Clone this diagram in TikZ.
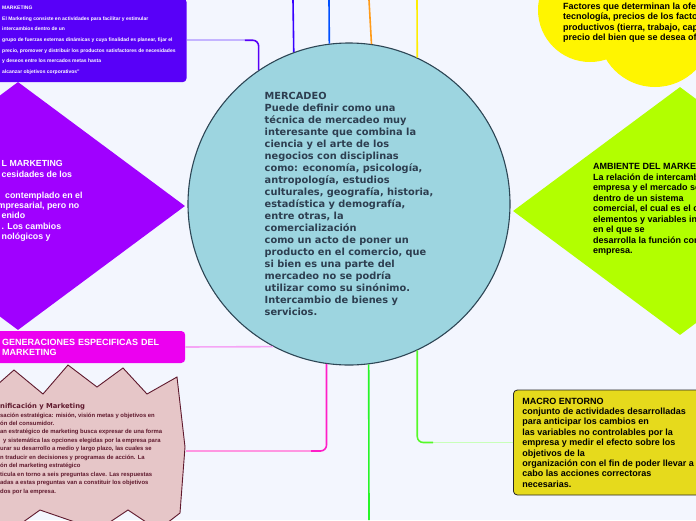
\documentclass[tikz,border=0pt]{standalone}
\usepackage{fontspec}
\setmainfont{Liberation Sans}
\newfontfamily\dejavu{DejaVu Sans}
\usetikzlibrary{positioning,shapes.geometric}
\definecolor{pagebg}{RGB}{243,246,254}
\definecolor{hubfill}{RGB}{157,213,224}
\definecolor{hubline}{RGB}{45,70,85}
\definecolor{hubtext}{RGB}{45,62,80}
\definecolor{mkviolet}{RGB}{88,0,248}
\definecolor{mklight}{RGB}{196,180,255}
\definecolor{evoviolet}{RGB}{160,0,255}
\definecolor{genmagenta}{RGB}{236,0,240}
\definecolor{genlight}{RGB}{245,165,245}
\definecolor{burstfill}{RGB}{230,198,200}
\definecolor{burstline}{RGB}{95,25,45}
\definecolor{planline}{RGB}{255,30,200}
\definecolor{planlight}{RGB}{255,150,225}
\definecolor{cloudyellow}{RGB}{255,245,0}
\definecolor{ambgreen}{RGB}{178,255,0}
\definecolor{macrofill}{RGB}{230,218,28}
\definecolor{macroline}{RGB}{85,250,40}
\definecolor{macrolight}{RGB}{200,255,185}
\definecolor{downgreen}{RGB}{40,245,40}
\definecolor{upviolet}{RGB}{55,0,255}
\definecolor{upblue}{RGB}{0,80,255}
\definecolor{uporange}{RGB}{255,155,25}
\definecolor{upyellow}{RGB}{255,238,0}
\tikzset{
  hub/.style={circle, draw=hubline, line width=1.1pt, fill=hubfill, minimum size=322pt, inner sep=0pt, align=left, text=hubtext, font=\dejavu\bfseries\fontsize{9.8}{12}\selectfont},
  dia/.style={diamond, minimum width=334pt, minimum height=248pt, inner sep=0pt},
  card/.style={rectangle, rounded corners=4pt, align=left, font=\bfseries\fontsize{9}{10.4}\selectfont},
  txt/.style={anchor=north west, inner sep=0pt, align=left, font=\bfseries\fontsize{9}{10.5}\selectfont},
  tiny/.style={txt, font=\bfseries\fontsize{5}{10.67}\selectfont},
  burst/.style={draw=burstline, line width=0.9pt, fill=burstfill, line join=miter},
  link/.style={line width=1.6pt, rounded corners=6pt},
}
\begin{document}
\begin{tikzpicture}[x=1pt,y=-1pt]
\fill[pagebg] (0,0) rectangle (696,520);
\useasboundingbox (0,0) rectangle (696,520);
\clip (0,0) rectangle (696,520);
% shapes round the hub
\fill[cloudyellow] (590,10) circle[radius=52pt] (655,30) circle[radius=57pt] (730,22) circle[radius=50pt] (640,-10) circle[radius=50pt];
\node[dia, fill=evoviolet] (evolucion) at (18,206) {};
\node[dia, fill=ambgreen] (ambiente) at (680,211) {};
\draw[burst] (-20,400) -- (14,370) -- (43,394) -- (68,365) -- (97,387) -- (123,368) -- (147,394) -- (177,377) -- (185,447) -- (180,513) -- (158,530) -- (128,510) -- (98,530) -- (40,510) -- (12,530) -- (-20,530) -- cycle;
\coordinate (plan) at (186,451);
\node[hub] (mercadeo) at (349,204) {MERCADEO\\Puede definir como una\\t\'ecnica de mercadeo muy\\interesante que combina la\\ciencia y el arte de los\\negocios con disciplinas\\como: econom\'ia, psicolog\'ia,\\antropolog\'ia, estudios\\culturales, geograf\'ia, historia,\\estad\'istica y demograf\'ia,\\entre otras, la\\comercializaci\'on\\como un acto de poner un\\producto en el comercio, que\\si bien es una parte del\\mercadeo no se podr\'ia\\utilizar como su sin\'onimo.\\Intercambio de bienes y\\servicios.};
\node[card, fill=mkviolet, text=white, anchor=north west, inner xsep=11pt, minimum height=84pt, font=\bfseries\fontsize{5}{10.67}\selectfont] (marketing) at (-9,-2) {MARKETING\\El Marketing consiste en actividades para facilitar y estimular\\intercambios dentro de un\\grupo de fuerzas externas din\'amicas y cuya finalidad es planear, fijar el\\precio, promover y distribuir los productos satisfactores de necesidades\\y deseos entre los mercados metas hasta\\alcanzar objetivos corporativos''};
\node[card, fill=genmagenta, text=white, anchor=west, inner xsep=12pt, text width=171pt, minimum height=32pt, font=\bfseries\fontsize{9}{10}\selectfont] (generaciones) at (-10,347) {GENERACIONES ESPECIFICAS DEL\\MARKETING};
\node[card, draw=black!85, line width=0.8pt, fill=macrofill, anchor=west, inner xsep=9pt, minimum height=105pt] (macro) at (513,442.5) {MACRO ENTORNO\\conjunto de actividades desarrolladas\\para anticipar los cambios en\\las variables no controlables por la\\empresa y medir el efecto sobre los\\objetivos de la\\organizaci\'on con el fin de poder llevar a\\cabo las acciones correctoras\\necesarias.};
% texts cut by the page edge
\node[txt, text=white, font=\bfseries\fontsize{8.8}{10.4}\selectfont] (evoluciontxt) at (1.5,160.5) {L MARKETING\\cesidades de los\\[10.4pt]\hspace*{3.5pt}contemplado en el\\\hspace*{-4pt}mpresarial, pero no\\enido\\. Los cambios\\nol\'ogicos y};
\node[txt] (ambientetxt) at (593,163.5) {AMBIENTE DEL MARKETING\\La relaci\'on de intercambio\\empresa y el mercado se\\dentro de un sistema\\comercial, el cual es el c\\elementos y variables in\\en el que se\\desarrolla la funci\'on com\\empresa.};
\node[txt] (ofertatxt) at (563,2.5) {Factores que determinan la oferta\\tecnolog\'ia, precios de los factores\\productivos (tierra, trabajo, capital\\precio del bien que se desea ofrecer};
\node[txt, text=burstline, font=\bfseries\fontsize{5.9}{8.45}\selectfont] (plantxt) at (0,403) {{\dejavu\bfseries\fontsize{6.8}{8.5}\selectfont nificaci\'on y Marketing}\\saci\'on estrat\'egica: misi\'on, visi\'on metas y objetivos en\\\'on del consumidor.\\an estrat\'egico de marketing busca expresar de una forma\\\hspace*{3pt}y sistem\'atica las opciones elegidas por la empresa para\\urar su desarrollo a medio y largo plazo, las cuales se\\n traducir en decisiones y programas de acci\'on. La\\\'on del marketing estrat\'egico\\ticula en torno a seis preguntas clave. Las respuestas\\adas a estas preguntas van a constituir los objetivos\\dos por la empresa.};
% connectors
\coordinate (up1) at (293,0);
\coordinate (up2) at (329,0);
\coordinate (up3) at (369,0);
\coordinate (up4) at (417,0);
\coordinate (down1) at (369,520);
\draw[link, draw=upviolet] (mercadeo.110.35) -- (up1);
\draw[link, draw=upblue] (mercadeo.97.13) -- (up2);
\draw[link, draw=uporange] (mercadeo.82.87) -- (up3);
\draw[link, draw=upyellow] (mercadeo.65) -- (up4);
\draw[link, draw=downgreen] (mercadeo.277.13) -- (down1);
\draw[link, draw=mklight] (marketing.east) -- ++(58,0) coordinate (mkbend);
\draw[link, draw=mkviolet] (mkbend) -| (mercadeo.124.4);
\draw[link, draw=genlight] (generaciones.east) -- (mercadeo.242.6);
\draw[link, draw=planlight] (plan) -- ++(125,0) coordinate (planbend);
\draw[link, draw=planline] (planbend) -| (mercadeo.262.87);
\draw[link, draw=macrolight] (macro.west) -- ++(-80,0) coordinate (macrobend);
\draw[link, draw=macroline] (macrobend) -| (mercadeo.295);
\end{tikzpicture}
\end{document}
